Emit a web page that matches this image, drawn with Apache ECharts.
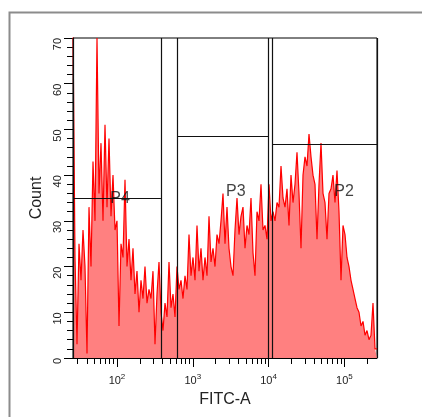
<!DOCTYPE html>
<html>
<head>
<meta charset="utf-8">
<script src="https://cdn.jsdelivr.net/npm/echarts@6/dist/echarts.min.js"></script>
<style>
html,body{margin:0;padding:0;background:#fff;}
#chart{width:422px;height:417px;}
</style>
</head>
<body>
<div id="chart"></div>
<script>
// FITC-A histogram, log scale, bins evenly spaced in log10
var xLogMin = 1.42;
var xLogMax = 5.43;
var binCounts = [
	72,22,3,25,17,28,20,1,33,20,43,30,70,36,47,30,51,33,48,31,
	40,28,30,7,25,22,39,20,26,17,24,14,19,10,17,13,20,12,15,13,
	19,3,14,21,10,6,12,9,21,11,14,9,20,15,17,13,18,15,27,18,
	22,17,29,19,24,17,22,18,31,21,24,20,27,25,30,36,25,33,24,20,
	18,28,35,27,31,33,24,29,27,35,23,18,32,30,38,28,29,26,38,30,
	32,30,34,33,42,35,33,37,29,40,34,38,45,36,24,40,44,42,49,44,
	40,38,26,38,47,36,34,26,36,37,40,34,41,32,17,29,27,22,20,17,
	15,13,11,10,7,8,5,6,4,5,12,2
];
var majorDecades = [2, 3, 4, 5];
var minorTickValues = [30,40,50,60,70,80,90,200,300,400,500,600,700,800,900,
	2000,3000,4000,5000,6000,7000,8000,9000,20000,30000,40000,50000,60000,70000,80000,90000,200000];

var gateNames = ['P4', 'P3', 'P2'];
var gateFrom = [26.4, 630, 11300];
var gateTo = [380, 9900, 269000];
var gateHeight = [35, 48.6, 46.8];
var labelAt = [110, 3700, 99000];
var labelCount = [34.8, 36.5, 36.4];

var myChart = echarts.init(document.getElementById('chart'));
var font = 'Liberation Sans, Arial, sans-serif';

var binW = (xLogMax - xLogMin) / binCounts.length;
var histData = [];
for (var i = 0; i < binCounts.length; i++) {
	histData.push([xLogMin + i * binW, binCounts[i]]);
}
histData.push([xLogMax, binCounts[binCounts.length - 1]]);

var gateLines = [];
for (var g = 0; g < gateNames.length; g++) {
	var a = Math.log10(gateFrom[g]), b = Math.log10(gateTo[g]);
	gateLines.push([{coord: [a, gateHeight[g]]}, {coord: [b, gateHeight[g]]}]);
	gateLines.push([{coord: [a, 0]}, {coord: [a, 70]}]);
	gateLines.push([{coord: [b, 0]}, {coord: [b, 70]}]);
}
var labelData = [];
for (var k = 0; k < gateNames.length; k++) {
	labelData.push({value: [Math.log10(labelAt[k]), labelCount[k]], name: gateNames[k]});
}

var option = {
	animation: false,
	textStyle: {fontFamily: font},
	graphic: [{
		type: 'rect', left: 7, top: 10,
		shape: {width: 420, height: 420},
		style: {fill: null, stroke: '#8c8c8c', lineWidth: 2},
		silent: true
	}],
	grid: {left: 73, top: 38, width: 304, height: 320, show: true, borderColor: '#000', borderWidth: 1, backgroundColor: '#fff'},
	xAxis: [
		{
			type: 'value', min: xLogMin, max: xLogMax,
			axisLine: {lineStyle: {color: '#000', width: 1}},
			axisTick: {show: true, length: 6, lineStyle: {color: '#000'},
				customValues: minorTickValues.map(function(v){ return Math.log10(v); })},
			axisLabel: {show: false},
			splitLine: {show: false},
			name: 'FITC-A', nameLocation: 'middle', nameGap: 34,
			nameTextStyle: {fontSize: 16, color: '#222', fontFamily: font}
		},
		{
			type: 'value', min: xLogMin, max: xLogMax, position: 'bottom',
			axisLine: {show: false},
			axisTick: {show: true, length: 9, lineStyle: {color: '#000'}, customValues: majorDecades},
			axisLabel: {
				show: true, customValues: majorDecades, margin: 15, color: '#222',
				formatter: function(v){ return '{b|10}{s|' + Math.round(v) + '}'; },
				rich: {
					b: {fontSize: 11, fontFamily: font, color: '#222'},
					s: {fontSize: 8, fontFamily: font, color: '#222', padding: [0, 0, 7, 0]}
				}
			},
			splitLine: {show: false}
		}
	],
	yAxis: {
		type: 'value', min: 0, max: 70, interval: 10,
		axisLine: {show: true, lineStyle: {color: '#000'}},
		axisTick: {show: true, length: 9, lineStyle: {color: '#000'}},
		minorTick: {show: true, splitNumber: 5, length: 6, lineStyle: {color: '#000'}},
		axisLabel: {rotate: 90, align: 'right', fontSize: 11, color: '#222', margin: 10, fontFamily: font},
		splitLine: {show: false},
		name: 'Count', nameLocation: 'middle', nameGap: 26, nameRotate: 90,
		nameTextStyle: {fontSize: 16, color: '#222', fontFamily: font}
	},
	series: [
		{
			name: 'FITC-A', type: 'line', step: 'end', showSymbol: false,
			data: histData, clip: true,
			lineStyle: {color: '#ff0000', width: 1.2},
			areaStyle: {color: '#ff8080', opacity: 1},
			z: 2
		},
		{
			name: 'gates', type: 'line', data: [], z: 3,
			markLine: {
				silent: true, symbol: 'none', label: {show: false},
				lineStyle: {color: '#111', width: 1.2, type: 'solid'},
				data: gateLines
			}
		},
		{
			name: 'labels', type: 'scatter', symbolSize: 0, z: 4,
			data: labelData,
			label: {show: true, position: 'inside', formatter: '{b}', fontSize: 16, color: '#111', fontFamily: font}
		}
	]
};
myChart.setOption(option);
</script>
</body>
</html>
